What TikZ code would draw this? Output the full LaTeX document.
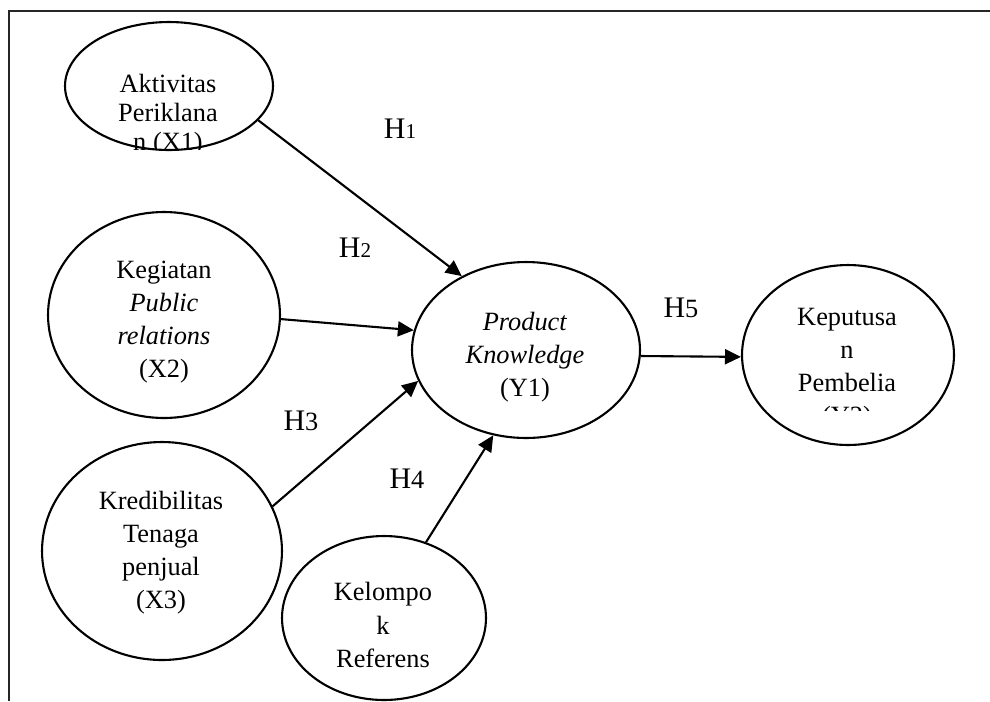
\documentclass[tikz,border=0pt]{standalone}
\usepackage{fontspec}
\setmainfont{Liberation Serif}
\usepackage{tikz}
\usetikzlibrary{arrows.meta,shapes.geometric}
\newcommand{\hlab}[2]{{\fontsize{17}{17}\selectfont H}{\fontsize{#1}{#1}\selectfont #2}}

\begin{document}
\begin{tikzpicture}[x=0.02cm, y=-0.02cm, var/.style={draw, ellipse, line width=1.2pt, inner sep=0pt}, vtext/.style={align=center, inner sep=0pt, font=\fontsize{15}{18.8}\selectfont}, hyp/.style={inner sep=0pt}, link/.style={-{Triangle[length=0.32cm, width=0.3cm]}, line width=1.2pt}]
      \useasboundingbox (0,0) rectangle (990,701);
      \draw[line width=1.1pt, black!85] (9,701) -- (9,11) -- (990,11);
      \node[var, minimum width=4.16cm, minimum height=2.56cm] (x1) at (169,86) {};
      \node[var, minimum width=4.64cm, minimum height=4.12cm] (x2) at (164,315) {};
      \node[var, minimum width=4.8cm, minimum height=4.36cm] (x3) at (162,551) {};
      \node[var, minimum width=4.08cm, minimum height=3.28cm] (x4) at (384,618) {};
      \node[var, minimum width=4.56cm, minimum height=3.52cm] (y1) at (526,350) {};
      \node[var, minimum width=4.24cm, minimum height=3.6cm] (y2) at (848,355) {};
      \begin{scope}
        \clip (0,0) rectangle (990,149);
        \node[vtext, font=\fontsize{15}{16.5}\selectfont] (x1t) at (168,115) {Aktivitas\\Periklana\\n (X1)};
      \end{scope}
      \node[vtext] (x2t) at (164,322) {Kegiatan\\\textit{Public}\\\textit{relations}\\(X2)};
      \node[vtext] (x3t) at (161,553) {Kredibilitas\\Tenaga\\penjual\\(X3)};
      \node[vtext] (x4t) at (383,625) {Kelompo\\k\\Referens};
      \node[vtext] (y1t) at (525,357) {\textit{Product}\\\textit{Knowledge}\\(Y1)};
      \begin{scope}
        \clip (700,0) rectangle (990,410);
        \node[vtext] (y2t) at (847,369) {Keputusa\\n\\Pembelia\\(Y2)};
      \end{scope}
      \draw[link] (x1.-21) -- (y1.131);
      \draw[link] (x2.-2) -- (y1.170);
      \draw[link] (x3.22) -- (y1.196);
      \draw[link] (x4.61) -- (y1.249);
      \draw[link] (y1.-3) -- (y2.181);
      \node[hyp] (h1) at (400,129) {\hlab{12}{1}};
      \node[hyp] (h2) at (355,248) {\hlab{12}{2}};
      \node[hyp] (h3) at (301,421) {\hlab{15}{3}};
      \node[hyp] (h4) at (407,479) {\hlab{15}{4}};
      \node[hyp] (h5) at (681,308) {\hlab{15}{5}};
    \end{tikzpicture}
\end{document}
